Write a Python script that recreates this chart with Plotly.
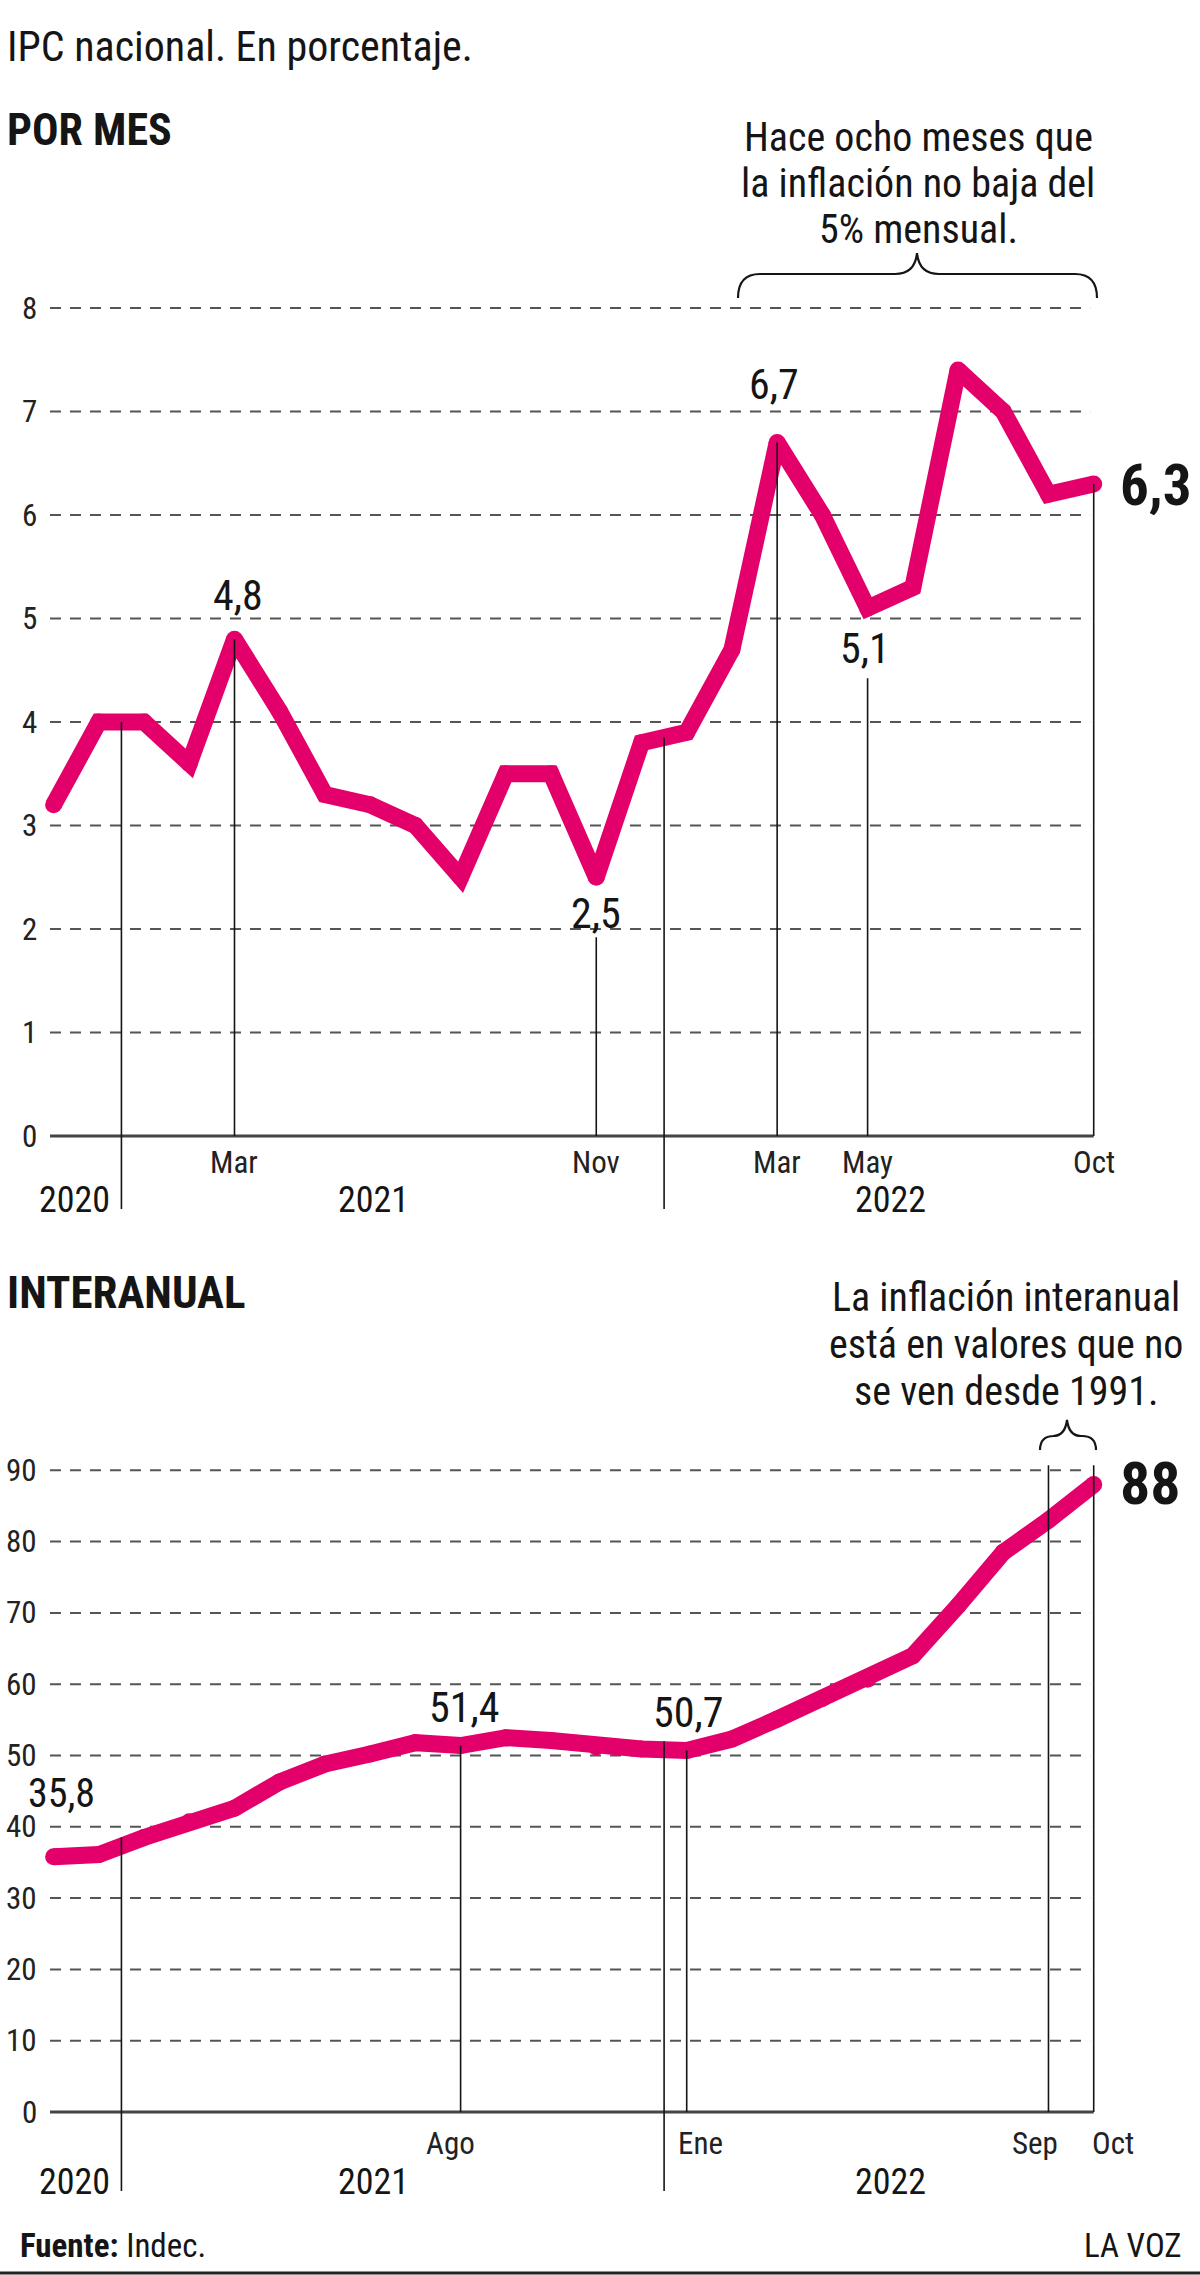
import plotly.graph_objects as go

# ---------------- data ----------------
months = ["Nov 2020", "Dic 2020", "Ene 2021", "Feb 2021", "Mar 2021", "Abr 2021",
          "May 2021", "Jun 2021", "Jul 2021", "Ago 2021", "Sep 2021", "Oct 2021",
          "Nov 2021", "Dic 2021", "Ene 2022", "Feb 2022", "Mar 2022", "Abr 2022",
          "May 2022", "Jun 2022", "Jul 2022", "Ago 2022", "Sep 2022", "Oct 2022"]
monthly = [3.2, 4.0, 4.0, 3.6, 4.8, 4.1, 3.3, 3.2, 3.0, 2.5, 3.5, 3.5,
           2.5, 3.8, 3.9, 4.7, 6.7, 6.0, 5.1, 5.3, 7.4, 7.0, 6.2, 6.3]
interanual = [35.8, 36.1, 38.5, 40.7, 42.6, 46.3, 48.8, 50.2, 51.8, 51.4, 52.5, 52.1,
              51.2, 50.9, 50.7, 52.3, 55.1, 58.0, 60.7, 64.0, 71.0, 78.5, 83.0, 88.0]

top_yticks = [0, 1, 2, 3, 4, 5, 6, 7, 8]
bot_yticks = [0, 10, 20, 30, 40, 50, 60, 70, 80, 90]
top_month_ticks = ["Mar 2021", "Nov 2021", "Mar 2022", "May 2022", "Oct 2022"]
bot_month_ticks = ["Ago 2021", "Ene 2022", "Sep 2022", "Oct 2022"]
years = ["2020", "2021", "2022"]

# ---------------- styling / geometry ----------------
W, H = 1200, 2275
PINK = "#E4006B"
INK = "#151515"
GRID = "#555555"
FONT = "Liberation Sans Narrow, Roboto Condensed, DejaVu Sans Condensed, Arial Narrow, sans-serif"

X0PX, DX = 53.6, 45.222           # pixel of first month, pixels per month
Y0_TOP, K_TOP = 1136.0, 103.5     # pixel of 0 and px per unit (top chart)
Y0_BOT, K_BOT = 2112.0, 7.13      # pixel of 0 and px per unit (bottom chart)

idx = list(range(len(months)))
pos = {m: i for i, m in enumerate(months)}
last = idx[-1]
GX0, GX1 = -0.08, last - 0.08     # gridline extent in month units

LBL = 42      # value labels
TICK = 31     # axis tick labels
YEAR = 36
NOTE = 40


def px(x):
    return x / W


def py(y):
    return 1 - y / H


def fmt(v):
    return f"{v:.1f}".replace(".", ",")


fig = go.Figure()
for vals, ax in [(monthly, "y"), (interanual, "y2")]:
    fig.add_trace(go.Scatter(x=idx, y=vals, mode="lines+markers", yaxis=ax,
                             line=dict(color=PINK, width=17),
                             marker=dict(color=PINK, size=17),
                             hoverinfo="skip", cliponaxis=False))

shapes = []
annots = []


def hline(v, yref, solid=False):
    shapes.append(dict(type="line", xref="x", yref=yref, x0=GX0,
                       x1=(last if solid else GX1), y0=v, y1=v, layer="below",
                       line=dict(color="#444444" if solid else GRID,
                                 width=3 if solid else 2,
                                 dash="solid" if solid else "11px,9px")))


def vline(x, y0, y1, yref):
    shapes.append(dict(type="line", xref="x", yref=yref, x0=x, x1=x, y0=y0, y1=y1,
                       layer="above", line=dict(color=INK, width=1.6)))


def text(t, x, y, xref="x", yref="y", size=30, bold=False, xanchor="center",
         yanchor="middle", xshift=0, yshift=0, color=INK):
    if bold:
        t = "<b>" + t + "</b>"
    annots.append(dict(text=t, x=x, y=y, xref=xref, yref=yref, showarrow=False,
                       xanchor=xanchor, yanchor=yanchor, xshift=xshift, yshift=yshift,
                       font=dict(family=FONT, size=size, color=color)))


# ---------- header ----------
text("IPC nacional. En porcentaje.", px(5), py(47), "paper", "paper", size=42, xanchor="left")
text("POR MES", px(5), py(130), "paper", "paper", size=44, bold=True, xanchor="left")
text("INTERANUAL", px(5), py(1292), "paper", "paper", size=45, bold=True, xanchor="left")

# ---------- top chart ----------
for v in top_yticks:
    hline(v, "y", solid=(v == 0))
    text(str(v), GX0, v, "x", "y", size=TICK, xanchor="right", xshift=-11, color="#222")

year_starts = [i for i, m in enumerate(months) if m.startswith("Ene")]
seps = [i - 0.5 for i in year_starts]
below_top = -73 / K_TOP
below_bot = -79 / K_BOT

for s in seps:
    a, b = int(s - 0.5), int(s + 0.5)
    vline(s, (monthly[a] + monthly[b]) / 2, below_top, "y")
    vline(s, (interanual[a] + interanual[b]) / 2 + 1.2, below_bot, "y2")

# leader lines: above-labels start at the point, below-labels start under the label
top_above = {"Mar 2021": (4, 44), "Mar 2022": (-3, 58)}
top_below = {"Nov 2021": (0, -36, 60), "May 2022": (-3, -40, 70)}
for m, (xs, ys) in top_above.items():
    i = pos[m]
    vline(i, monthly[i], 0, "y")
    text(fmt(monthly[i]), i, monthly[i], size=LBL, xshift=xs, yshift=ys)
for m, (xs, ys, gap) in top_below.items():
    i = pos[m]
    vline(i, monthly[i] - gap / K_TOP, 0, "y")
    text(fmt(monthly[i]), i, monthly[i], size=LBL, xshift=xs, yshift=ys)
vline(last, monthly[last], 0, "y")
text(fmt(monthly[last]), last, monthly[last], size=57, bold=True, xanchor="left",
     xshift=24, yshift=-2)

for m in top_month_ticks:
    text(m.split()[0], pos[m], -26 / K_TOP, size=TICK, color="#222")

year_shift = {"2020": -2, "2021": -19, "2022": 0}
for yname in years:
    ii = [i for i, m in enumerate(months) if m.endswith(yname)]
    mid = (ii[0] + ii[-1]) / 2
    text(yname, mid, -64 / K_TOP, "x", "y", size=YEAR, xshift=year_shift[yname])
    text(yname, mid, -70 / K_BOT, "x", "y2", size=YEAR, xshift=year_shift[yname])

# ---------- bottom chart ----------
for v in bot_yticks:
    hline(v, "y2", solid=(v == 0))
    text(str(v), GX0, v, "x", "y2", size=TICK, xanchor="right", xshift=-11, color="#222")

bot_above = {"Nov 2020": (8, 63, 40), "Ago 2021": (3, 38, LBL), "Ene 2022": (1, 38, LBL)}
for m, (xs, ys, sz) in bot_above.items():
    i = pos[m]
    if i > 0:
        vline(i, interanual[i], 0, "y2")
    text(fmt(interanual[i]), i, interanual[i], "x", "y2", size=sz, xshift=xs, yshift=ys)
for m in ["Sep 2022", "Oct 2022"]:
    vline(pos[m], 90 + 5 / K_BOT, 0, "y2")
text(f"{interanual[last]:.0f}", last, interanual[last], "x", "y2", size=60, bold=True,
     xanchor="left", xshift=24, yshift=1)

bot_shift = {"Ago 2021": -10, "Ene 2022": 14, "Sep 2022": -13, "Oct 2022": 19}
for m in bot_month_ticks:
    text(m.split()[0], pos[m], -31 / K_BOT, "x", "y2", size=TICK, xshift=bot_shift[m], color="#222")

# ---------- notes with braces ----------
for t, yy in zip(["Hace ocho meses que", "la inflación no baja del", "5% mensual."],
                 [137, 183, 229]):
    text(t, px(918), py(yy), "paper", "paper", size=NOTE)
for t, yy in zip(["La inflación interanual", "está en valores que no", "se ven desde 1991."],
                 [1297, 1344, 1391]):
    text(t, px(1006), py(yy), "paper", "paper", size=NOTE)


def brace(x0, x1, xt, yb, yf, yt):
    r = min(22, (x1 - x0) / 4)
    pts = [("M", x0, yb), ("Q", x0, yf), ("", x0 + r, yf), ("L", xt - r, yf),
           ("Q", xt - 2, yf), ("", xt, yt), ("Q", xt + 2, yf), ("", xt + r, yf),
           ("L", x1 - r, yf), ("Q", x1, yf), ("", x1, yb)]
    path = " ".join(f"{c} {px(a):.5f},{py(b):.5f}" if c else f"{px(a):.5f},{py(b):.5f}"
                    for c, a, b in pts)
    shapes.append(dict(type="path", xref="paper", yref="paper", path=path,
                       line=dict(color=INK, width=2.2)))


brace(738, 1097, 917, 298, 274, 253)
brace(1040, 1096, 1067, 1450, 1436, 1420)

# ---------- footer ----------
text("<b>Fuente:</b> Indec.", px(18), py(2245), "paper", "paper", size=33, xanchor="left")
text("LA VOZ", px(1184), py(2245), "paper", "paper", size=33, xanchor="right")
shapes.append(dict(type="line", xref="paper", yref="paper", x0=0, x1=1,
                   y0=py(2273), y1=py(2273), line=dict(color="#222", width=3)))

fig.update_layout(
    width=W, height=H, margin=dict(l=0, r=0, t=0, b=0),
    paper_bgcolor="white", plot_bgcolor="white", showlegend=False,
    xaxis=dict(range=[-X0PX / DX, (W - X0PX) / DX], visible=False, fixedrange=True),
    yaxis=dict(range=[-(H - Y0_TOP) / K_TOP, Y0_TOP / K_TOP], visible=False, fixedrange=True),
    yaxis2=dict(range=[-(H - Y0_BOT) / K_BOT, Y0_BOT / K_BOT], visible=False,
                overlaying="y", anchor="x", fixedrange=True),
    shapes=shapes, annotations=annots,
)

fig.write_html("out.html")
